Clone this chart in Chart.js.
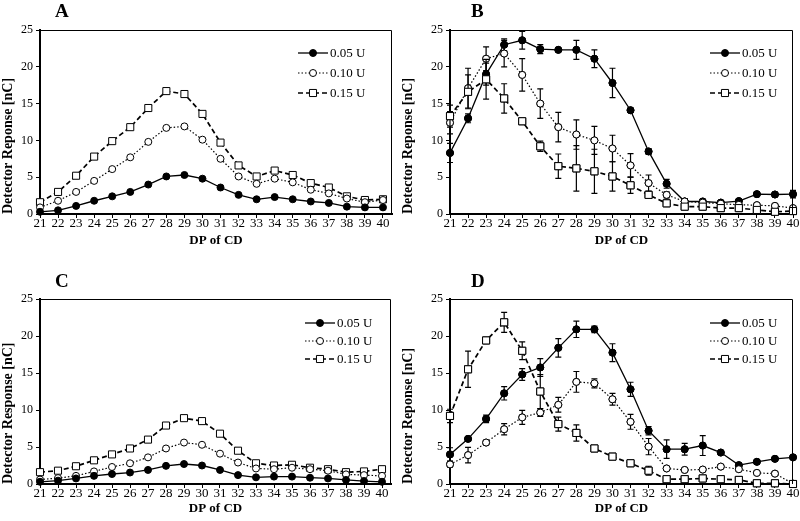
<!DOCTYPE html>
<html>
<head>
<meta charset="utf-8">
<script src="https://cdn.jsdelivr.net/npm/chart.js@4.4.1/dist/chart.umd.min.js"></script>
<style>
  body{margin:0;background:#fff;}
  #page{position:relative;width:800px;height:521px;overflow:hidden;}
  canvas{position:absolute;}
  .letter{position:absolute;font-family:"Liberation Serif",serif;font-weight:bold;font-size:19px;color:#000;}
</style>
</head>
<body>
<div id="page">
  <canvas id="chart-a" width="400" height="260" style="left:0;top:0"></canvas>
  <canvas id="chart-b" width="400" height="260" style="left:400px;top:0"></canvas>
  <canvas id="chart-c" width="400" height="261" style="left:0;top:260px"></canvas>
  <canvas id="chart-d" width="400" height="261" style="left:400px;top:260px"></canvas>
  <div class="letter" style="left:55px;top:0px">A</div>
  <div class="letter" style="left:471px;top:0px">B</div>
  <div class="letter" style="left:55px;top:270px">C</div>
  <div class="letter" style="left:471px;top:270px">D</div>
</div>
<script>
// DP of CD
const dp = [21,22,23,24,25,26,27,28,29,30,31,32,33,34,35,36,37,38,39,40]
const yTicks = [0,5,10,15,20,25]
const seriesNames = ["0.05 U","0.10 U","0.15 U"]

// panel A
const a005 = [0.3,0.5,1.1,1.8,2.4,3.0,4.0,5.1,5.3,4.8,3.6,2.6,2.0,2.3,2.0,1.7,1.5,1.0,0.9,0.9]
const a010 = [0.9,1.8,3.0,4.5,6.1,7.7,9.8,11.7,11.9,10.1,7.5,5.1,4.1,4.8,4.3,3.3,2.8,2.1,1.6,1.9]
const a015 = [1.6,3.0,5.2,7.8,9.9,11.8,14.4,16.7,16.3,13.6,9.7,6.6,5.1,5.9,5.3,4.2,3.6,2.4,1.9,2.0]

// panel B (with errors)
const b005 = [8.3,13.0,19.0,23.0,23.6,22.4,22.3,22.3,21.1,17.8,14.1,8.5,4.1,1.7,1.7,1.55,1.75,2.7,2.65,2.7]
const b005Err = [1.3,0.6,1.5,0.8,1.2,0.6,0.2,1.3,1.2,2.0,0.3,0.4,0.6,0.4,0.3,0.2,0.2,0.3,0.3,0.5]
const b010 = [12.4,17.1,21.1,21.8,18.9,15.0,11.8,10.8,10.0,8.9,6.6,4.2,2.6,1.7,1.55,1.4,1.25,1.2,1.1,0.8]
const b010Err = [1.5,2.7,1.6,1.8,2.2,2.0,2.0,2.0,1.9,1.8,1.6,1.1,0.4,0.3,0.3,0.2,0.2,0.2,0.2,0.2]
const b015 = [13.3,16.6,18.3,15.7,12.6,9.2,6.5,6.2,5.8,5.1,3.9,2.6,1.45,1.0,1.0,0.8,0.8,0.55,0.3,0.4]
const b015Err = [1.5,2.3,2.7,2.0,0.3,0.7,1.65,3.1,3.0,2.0,1.1,0.4,0.3,0.2,0.2,0.2,0.2,0.2,0.2,0.2]

// panel C
const c005 = [0.3,0.45,0.75,1.1,1.35,1.55,1.9,2.45,2.7,2.5,1.9,1.2,0.9,1.0,1.0,0.85,0.75,0.55,0.4,0.3]
const c010 = [0.6,0.8,1.1,1.7,2.3,2.8,3.6,4.8,5.6,5.3,4.1,2.9,2.1,2.0,2.2,2.0,1.8,1.3,1.2,1.1]
const c015 = [1.6,1.8,2.4,3.2,4.0,4.8,6.0,7.9,8.9,8.5,6.8,4.5,2.8,2.5,2.6,2.2,2.0,1.6,1.7,2.0]

// panel D (with errors)
const d005 = [4.0,6.1,8.8,12.25,14.8,15.75,18.4,20.9,20.9,17.75,12.8,7.2,4.7,4.7,5.2,4.25,2.55,3.0,3.4,3.6]
const d005Err = [0.9,0.3,0.5,0.9,0.8,1.2,1.25,1.1,0.45,1.2,0.95,0.55,1.25,0.8,1.35,0.2,0.2,0.2,0.2,0.2]
const d010 = [2.65,3.9,5.6,7.4,9.0,9.65,10.7,13.8,13.6,11.45,8.4,5.05,2.1,1.9,1.95,2.35,2.0,1.5,1.4,0.05]
const d010Err = [0.4,1.05,0.3,0.75,0.95,0.5,1.0,1.4,0.6,0.8,1.0,1.1,0.2,0.2,0.2,0.2,0.2,0.2,0.2,0]
const d015 = [9.2,15.5,19.4,21.85,18.0,12.5,8.1,6.9,4.8,3.7,2.8,1.8,0.65,0.65,0.75,0.65,0.55,0.1,0.1,0.0]
const d015Err = [0.9,2.45,0.3,1.35,1.2,2.3,0.95,1.1,0.4,0.2,0.4,0.6,0.2,0.2,0.2,0.2,0.2,0,0,0]

const serif = "'Liberation Serif', 'Times New Roman', serif"

// line + marker look of each series (0.05, 0.10, 0.15)
const looks = [
    {dash:[], width:1.3, style:'circle', radius:3.5, fill:'#000'},
    {dash:[1.5,2], width:1.2, style:'circle', radius:3.5, fill:'#fff'},
    {dash:[5,3], width:1.7, style:'rect', radius:5, fill:'#fff'}
]

const drawMarker = (ctx, look, x, y) => {
    ctx.save()
    ctx.setLineDash([])
    ctx.lineWidth = 1
    ctx.strokeStyle = '#000'
    ctx.fillStyle = look.fill
    ctx.beginPath()
    if(look.style === 'rect'){
        const s = look.radius * Math.SQRT1_2
        ctx.rect(x - s, y - s, 2*s, 2*s)
    } else {
        ctx.arc(x, y, look.radius, 0, Math.PI*2)
    }
    ctx.fill()
    ctx.stroke()
    ctx.restore()
}

// error bars, drawn under the markers
const errorBars = {
    id:'errorBars',
    afterDatasetsDraw(chart){
        const ctx = chart.ctx
        const xs = chart.scales.x, ys = chart.scales.y
        ctx.save()
        ctx.strokeStyle = '#000'
        ctx.lineWidth = 1.2
        ctx.setLineDash([])
        chart.data.datasets.forEach((ds, di) => {
            if(!ds.errors) return
            ds.data.forEach((p, i) => {
                const e = ds.errors[i]
                if(!e) return
                const x = xs.getPixelForValue(p.x)
                const y1 = ys.getPixelForValue(p.y + e)
                const y2 = ys.getPixelForValue(Math.max(p.y - e, 0))
                ctx.beginPath()
                ctx.moveTo(x, y1); ctx.lineTo(x, y2)
                ctx.moveTo(x-3, y1); ctx.lineTo(x+3, y1)
                ctx.moveTo(x-3, y2); ctx.lineTo(x+3, y2)
                ctx.stroke()
            })
            // put the markers back on top of the bars
            chart.getDatasetMeta(di).data.forEach(pt => drawMarker(ctx, looks[di], pt.x, pt.y))
        })
        ctx.restore()
    }
}

// thin top/right frame + legend inside the plot
const frameAndLegend = {
    id:'frameAndLegend',
    afterDraw(chart){
        const ctx = chart.ctx
        const {left, top, right, bottom} = chart.chartArea
        const lg = chart.options.plugins.frameAndLegend
        ctx.save()
        ctx.strokeStyle = '#000'
        ctx.lineWidth = 1
        ctx.beginPath()
        ctx.moveTo(left, top + 0.5); ctx.lineTo(right - 0.5, top + 0.5); ctx.lineTo(right - 0.5, bottom)
        ctx.stroke()

        seriesNames.forEach((name, i) => {
            const look = looks[i]
            const y = lg.y + i * lg.gap
            ctx.setLineDash(look.dash)
            ctx.lineWidth = look.width
            ctx.beginPath()
            ctx.moveTo(lg.x, y); ctx.lineTo(lg.x + 30, y)
            ctx.stroke()
            drawMarker(ctx, look, lg.x + 15, y)
            ctx.fillStyle = '#000'
            ctx.font = "13px " + serif
            ctx.textBaseline = 'middle'
            ctx.textAlign = 'left'
            ctx.fillText(name, lg.x + 32, y + 1)
        })
        ctx.restore()
    }
}

const makeChart = (canvasId, cfg, values, errors) => {
    const canvas = document.getElementById(canvasId)
    const W = canvas.width, H = canvas.height
    const datasets = values.map((vals, i) => ({
        label: seriesNames[i],
        data: vals.map((v, k) => ({x: dp[k], y: v})),
        errors: errors ? errors[i] : null,
        borderColor:'#000',
        borderWidth: looks[i].width,
        borderDash: looks[i].dash,
        pointStyle: looks[i].style,
        pointRadius: looks[i].radius,
        pointBackgroundColor: looks[i].fill,
        pointBorderColor:'#000',
        pointBorderWidth:1,
        tension:0,
        clip:false
    }))
    new Chart(canvas, {
        type:'line',
        data:{datasets},
        options:{
            responsive:false,
            animation:false,
            events:[],
            layout:{padding:{left:0, top:cfg.area.t, right:W - cfg.area.r, bottom:cfg.padB}},
            plugins:{
                legend:{display:false},
                tooltip:{enabled:false},
                frameAndLegend: cfg.legend
            },
            scales:{
                x:{
                    type:'linear',
                    min:dp[0],
                    max:cfg.xMax,
                    afterFit:(s)=>{ s.height = H - cfg.area.b - cfg.padB },
                    afterBuildTicks:(s)=>{ s.ticks = dp.map(v => ({value:v})) },
                    ticks:{color:'#000', font:{family:serif, size:13}, padding:-2, maxRotation:0, autoSkip:false},
                    grid:{display:true, drawOnChartArea:false, drawTicks:true, tickLength:4, color:'#000'},
                    border:{display:true, color:'#000', width:2},
                    title:{display:true, text:'DP of CD', color:'#000', font:{family:serif, size:13, weight:'bold'}, padding:0}
                },
                y:{
                    min:0,
                    max:25,
                    afterFit:(s)=>{ s.width = cfg.area.l },
                    afterBuildTicks:(s)=>{ s.ticks = yTicks.map(v => ({value:v})) },
                    ticks:{color:'#000', font:{family:serif, size:12}, padding:3},
                    grid:{display:true, drawOnChartArea:false, drawTicks:true, tickLength:4, color:'#000'},
                    border:{display:true, color:'#000', width:2},
                    title:{display:true, text:cfg.yTitle, align:'start', color:'#000', font:{family:serif, size:14, weight:'bold'}, padding:{top:0, bottom:0}}
                }
            }
        },
        plugins:[errorBars, frameAndLegend]
    })
}

makeChart('chart-a', {area:{l:40, t:30, r:392, b:214}, padB:12, xMax:40.5,
    yTitle:'Detector Reponse [nC]', legend:{x:298, y:53, gap:20}}, [a005, a010, a015])
makeChart('chart-b', {area:{l:50, t:30, r:393, b:214}, padB:12, xMax:40,
    yTitle:'Detector Reponse [nC]', legend:{x:310, y:53, gap:20}}, [b005, b010, b015], [b005Err, b010Err, b015Err])
makeChart('chart-c', {area:{l:40, t:39, r:391, b:224}, padB:5, xMax:40.5,
    yTitle:'Detector Response [nC]', legend:{x:305, y:63, gap:18}}, [c005, c010, c015])
makeChart('chart-d', {area:{l:50, t:39, r:393, b:224}, padB:5, xMax:40,
    yTitle:'Detector Reponse [nC]', legend:{x:310, y:63, gap:18}}, [d005, d010, d015], [d005Err, d010Err, d015Err])
</script>
</body>
</html>
